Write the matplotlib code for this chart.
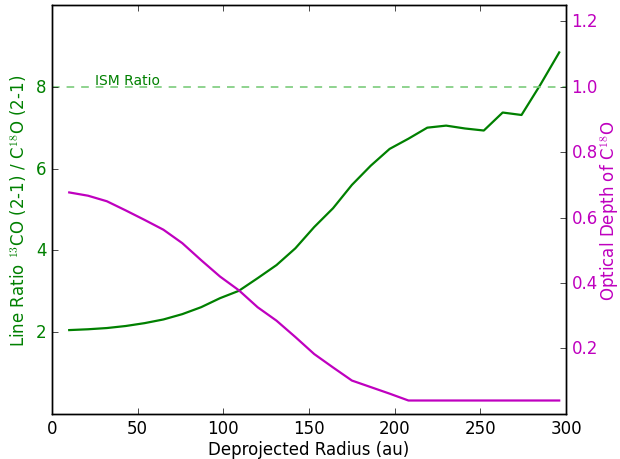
import numpy as np
import matplotlib
matplotlib.use('Agg')
import matplotlib.pyplot as plt

radius = [10, 21, 32, 43, 54, 65, 76, 87, 98, 109, 120, 131, 142, 153,
          164, 175, 186, 197, 208, 219, 230, 241, 252, 263, 274, 285, 296]
line_ratio = [2.05, 2.07, 2.10, 2.15, 2.22, 2.31, 2.44, 2.61, 2.83, 3.01,
              3.32, 3.64, 4.05, 4.57, 5.03, 5.60, 6.07, 6.48, 6.73, 7.00,
              7.05, 6.98, 6.93, 7.37, 7.31, 8.05, 8.84]
tau = [0.677, 0.667, 0.650, 0.622, 0.593, 0.563, 0.522, 0.470, 0.420, 0.378,
       0.326, 0.285, 0.235, 0.183, 0.142, 0.102, 0.082, 0.062, 0.041, 0.041,
       0.041, 0.041, 0.041, 0.041, 0.041, 0.041, 0.041]
ism_ratio = 8

plt.style.use('classic')
fig = plt.figure(figsize=(6.2, 4.6), dpi=100, facecolor='white')
ax = fig.add_subplot(111)
fig.subplots_adjust(left=0.084, right=0.913, bottom=0.098, top=0.987)

ax.plot(radius, line_ratio, color='g', lw=1.6)
ax.axhline(ism_ratio, color='#7ccc7c', lw=1.2, dashes=(5.5, 5))
ax.text(25, 8.0, 'ISM Ratio', color='g', fontsize=10, va='bottom')
ax.set_xlim(0, 300)
ax.set_ylim(0, 10)
ax.set_yticks([2, 4, 6, 8])
ax.set_xlabel('Deprojected Radius (au)', fontsize=12, labelpad=1.5)
ax.set_ylabel('Line Ratio $^{13}$CO (2-1) / C$^{18}$O (2-1)', color='g', fontsize=12)
for t in ax.get_yticklabels():
    t.set_color('g')

ax2 = ax.twinx()
ax2.plot(radius, tau, color='m', lw=1.6)
ax2.set_ylim(0, 1.25)
ax2.set_yticks([0.2, 0.4, 0.6, 0.8, 1.0, 1.2])
ax2.set_ylabel('Optical Depth of C$^{18}$O', color='m', fontsize=12, labelpad=0)
for t in ax2.get_yticklabels():
    t.set_color('m')
ax2.set_xlim(0, 300)

fig.savefig('out.png', dpi=100, facecolor='white')
